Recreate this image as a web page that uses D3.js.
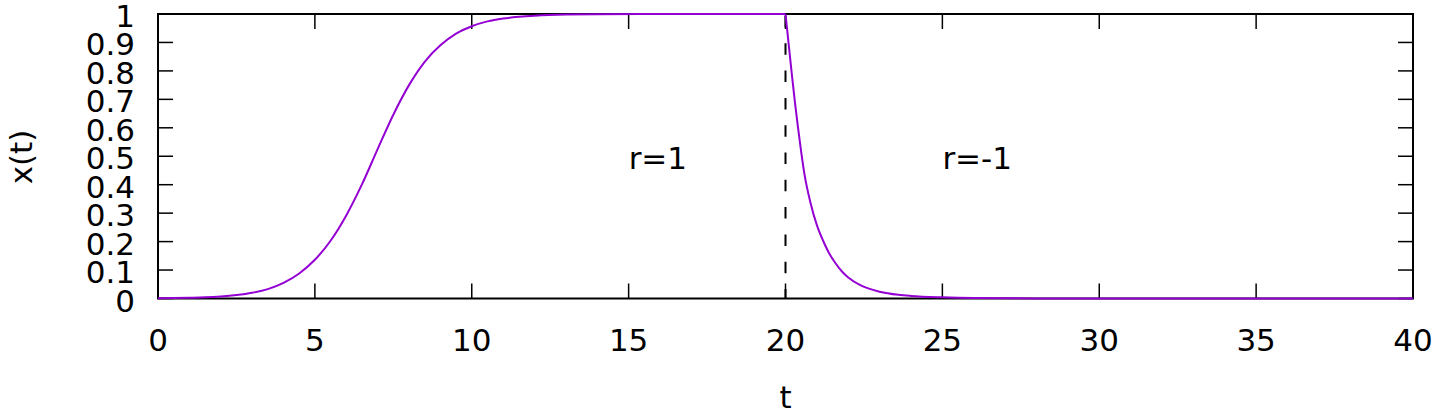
<!DOCTYPE html>
<html>
<head>
<meta charset="utf-8">
<script src="https://cdn.jsdelivr.net/npm/d3@7/dist/d3.min.js"></script>
<style>
  html, body { margin: 0; padding: 0; background: #fff; }
  svg { display: block; }
  text { font-family: "DejaVu Sans", sans-serif; fill: #000; }
</style>
</head>
<body>
<svg id="chart" width="1438" height="413"></svg>
<script>
// ---- data ----
const growthT = [0, 0.5, 1, 1.5, 2, 2.5, 3, 3.5, 4, 4.5, 5, 5.5, 6, 6.5, 7, 7.5, 8, 8.5, 9, 9.5, 10, 10.5, 11, 11.5, 12, 13, 14, 16, 18, 20];
const growthX = [0.001, 0.0015, 0.0025, 0.004, 0.007, 0.012, 0.02, 0.033, 0.055, 0.088, 0.136, 0.203, 0.292, 0.401, 0.525, 0.646, 0.75, 0.832, 0.89, 0.931, 0.957, 0.974, 0.984, 0.99, 0.994, 0.998, 0.999, 1, 1, 1];
const decayT = [20, 20.1, 20.2, 20.3, 20.4, 20.5, 20.6, 20.8, 21, 21.2, 21.4, 21.6, 21.8, 22, 22.4, 23, 23.6, 24, 25, 26, 28, 30, 35, 40];
const decayX = [1, 0.895, 0.79, 0.69, 0.6, 0.515, 0.44, 0.335, 0.258, 0.203, 0.157, 0.123, 0.095, 0.074, 0.046, 0.024, 0.013, 0.009, 0.004, 0.0015, 0.0003, 0, 0, 0];
const xTicks = [0, 5, 10, 15, 20, 25, 30, 35, 40];
const yTicks = [0, 0.1, 0.2, 0.3, 0.4, 0.5, 0.6, 0.7, 0.8, 0.9, 1];
const switchT = 20;
const annotations = [{ t: 15, label: "r=1" }, { t: 25, label: "r=-1" }];
const xLabel = "t";
const yLabel = "x(t)";

// ---- layout ----
const pL = 158, pR = 1413, pT = 14, pB = 298.5;
const fs = 31;
const purple = "#9400d3";

const svg = d3.select("#chart");
const x = d3.scaleLinear().domain([0, 40]).range([pL, pR]);
const y = d3.scaleLinear().domain([0, 1]).range([pB, pT]);

// ticks (inward, mirrored)
const tickLen = 15;
const g = svg.append("g");
xTicks.forEach(v => {
  g.append("line").attr("x1", x(v)).attr("x2", x(v)).attr("y1", pB).attr("y2", pB - tickLen)
    .attr("stroke", "#000").attr("stroke-width", 1.5);
  g.append("line").attr("x1", x(v)).attr("x2", x(v)).attr("y1", pT).attr("y2", pT + tickLen)
    .attr("stroke", "#000").attr("stroke-width", 1.5);
  g.append("text").attr("x", x(v)).attr("y", 351).attr("text-anchor", "middle")
    .attr("font-size", fs).text(d3.format("d")(v));
});
yTicks.forEach(v => {
  g.append("line").attr("x1", pL).attr("x2", pL + tickLen).attr("y1", y(v)).attr("y2", y(v))
    .attr("stroke", "#000").attr("stroke-width", 1.5);
  g.append("line").attr("x1", pR).attr("x2", pR - tickLen).attr("y1", y(v)).attr("y2", y(v))
    .attr("stroke", "#000").attr("stroke-width", 1.5);
  g.append("text").attr("x", 135).attr("y", y(v) + 2).attr("text-anchor", "end")
    .attr("dominant-baseline", "central").attr("font-size", fs).text(String(v));
});

// border
svg.append("rect").attr("x", pL).attr("y", pT).attr("width", pR - pL).attr("height", pB - pT)
  .attr("fill", "none").attr("stroke", "#000").attr("stroke-width", 2);

// dashed separator
svg.append("line").attr("x1", x(switchT)).attr("x2", x(switchT)).attr("y1", y(1)).attr("y2", y(0))
  .attr("stroke", "#000").attr("stroke-width", 2)
  .attr("stroke-dasharray", "11.5,15.8").attr("stroke-dashoffset", -2);

// annotations
annotations.forEach(a => {
  svg.append("text").attr("x", x(a.t)).attr("y", 169).attr("text-anchor", "start")
    .attr("font-size", fs).text(a.label);
});

// axis labels
svg.append("text").attr("x", x(20)).attr("y", 408).attr("text-anchor", "middle").attr("font-size", fs).text(xLabel);
svg.append("text").attr("transform", "translate(21,157) rotate(-90)").attr("text-anchor", "middle")
  .attr("dominant-baseline", "central").attr("font-size", fs).text(yLabel);

// curves
const line = d3.line().x(d => x(d[0])).y(d => y(d[1])).curve(d3.curveMonotoneX);
const growth = growthT.map((t, i) => [t, growthX[i]]);
const decay = decayT.map((t, i) => [t, decayX[i]]);
[growth, decay].forEach(data => {
  svg.append("path").datum(data).attr("d", line).attr("fill", "none")
    .attr("stroke", purple).attr("stroke-width", 2);
});
</script>
</body>
</html>
